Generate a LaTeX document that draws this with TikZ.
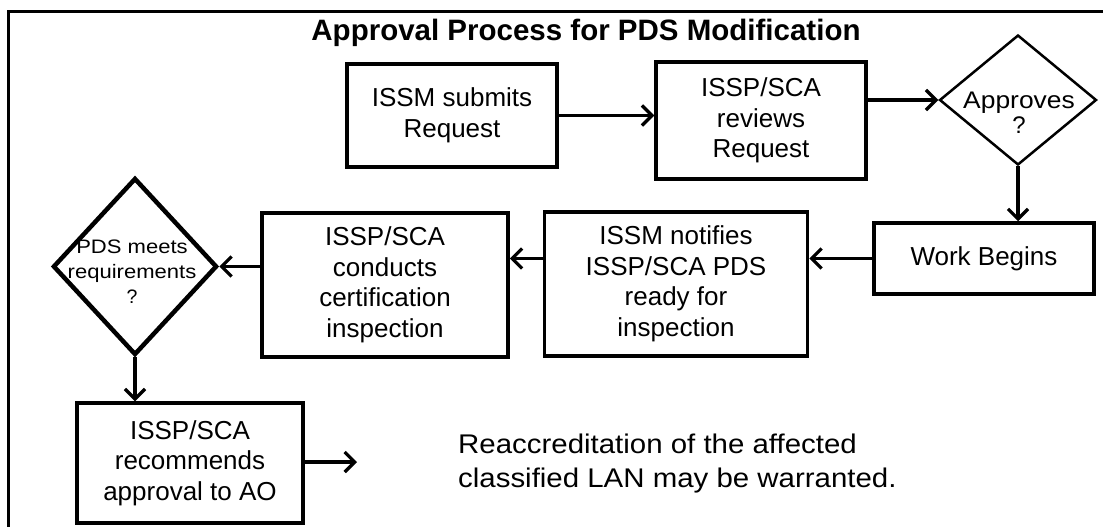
\documentclass[tikz,border=0pt]{standalone}
\usepackage{fontspec}
\setmainfont{Liberation Sans}
\usetikzlibrary{shapes.geometric,arrows.meta}
\begin{document}
\begin{tikzpicture}[x=1pt,y=-1pt,
  box/.style={draw, line width=3.5pt, inner sep=0pt, align=center, font=\fontsize{26}{30.5}\selectfont},
  dia/.style={draw, shape=diamond, inner sep=0pt},
  arr/.style={line width=3.3pt, -{Straight Barb[length=10pt,width=20pt]}},
  lbl/.style={inner sep=0pt, align=center}
]
\useasboundingbox (0,0) rectangle (1103,527);
% frame
\draw[line width=3pt] (8,545) -- (8,12) -- (1115,12);
% title
\node[lbl, font=\bfseries\fontsize{29.5}{30}\selectfont] (title) at (586,33) {Approval Process for PDS Modification};
% nodes
\node[box, minimum width=210, minimum height=103] (b1) at (452,115.5) {ISSM submits\\Request};
\node[box, minimum width=210, minimum height=117] (b2) at (761,120.5) {ISSP/SCA\\reviews\\Request};
\node[dia, line width=2.5pt, minimum width=157, minimum height=130] (d1) at (1018,100) {};
\node[lbl, font=\fontsize{24}{25}\selectfont] (d1t) at (1019,113) {\scalebox{1.1}[1]{Approves}\\?};
\node[box, minimum width=220, minimum height=71] (wb) at (984,258.5) {Work Begins};
\node[box, minimum width=263, minimum height=144] (n) at (676,284) {ISSM notifies\\ISSP/SCA PDS\\ready for\\inspection};
\node[box, minimum width=246, minimum height=144] (c) at (385,285) {ISSP/SCA\\conducts\\certification\\inspection};
\node[dia, line width=4.5pt, minimum width=164, minimum height=177] (d2) at (135,266.5) {};
\node[lbl, font=\fontsize{19.5}{25}\selectfont] (d2t) at (132,272) {\scalebox{1.13}[1]{PDS meets}\\\scalebox{1.13}[1]{requirements}\\?};
\node[box, minimum width=226, minimum height=120] (r) at (190,463) {ISSP/SCA\\recommends\\approval to AO};
\coordinate (rend) at (357,462);
\node[lbl, align=left, anchor=west, font=\fontsize{27}{34}\selectfont] (note) at (458,464) {\scalebox{1.09}[1]{Reaccreditation of the affected}\\\scalebox{1.09}[1]{classified LAN may be warranted.}};
% connectors
\draw[arr] (b1.east) -- (b1.east -| b2.west);
\draw[arr] (b2.east |- d1.west) -- (d1.west);
\draw[arr] (d1.south) -- (d1.south |- wb.north);
\draw[arr] (wb.west) -- (wb.west -| n.east);
\draw[arr] (n.west |- wb.west) -- (c.east |- wb.west);
\draw[arr] (c.west |- d2.east) -- (d2.east);
\draw[arr] (d2.south) -- (d2.south |- r.north);
\draw[arr] (r.east |- rend) -- (rend);
\end{tikzpicture}
\end{document}
